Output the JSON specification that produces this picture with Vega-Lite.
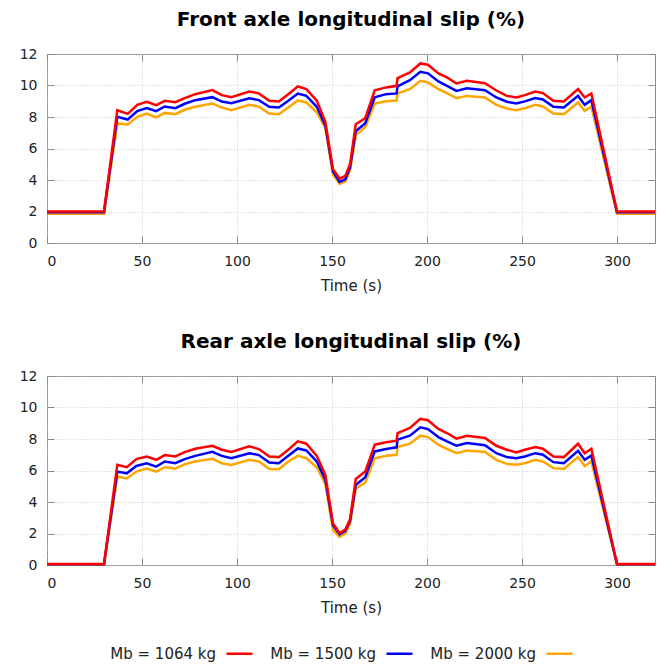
{
  "$schema": "https://vega.github.io/schema/vega-lite/v6.json",
  "padding": {"left": 18, "top": 9, "right": 5, "bottom": 5},
  "background": "white",
  "datasets": {
    "front": [
      {"t": 0, "m1064": 2.0, "m1500": 1.95, "m2000": 1.85},
      {"t": 30, "m1064": 2.0, "m1500": 1.95, "m2000": 1.85},
      {"t": 37, "m1064": 8.43, "m1500": 8.01, "m2000": 7.59},
      {"t": 42.5, "m1064": 8.2, "m1500": 7.84, "m2000": 7.52},
      {"t": 47.5, "m1064": 8.77, "m1500": 8.37, "m2000": 8.01},
      {"t": 52.5, "m1064": 8.96, "m1500": 8.56, "m2000": 8.22},
      {"t": 57.5, "m1064": 8.75, "m1500": 8.37, "m2000": 7.97},
      {"t": 62, "m1064": 9.03, "m1500": 8.67, "m2000": 8.26},
      {"t": 67.5, "m1064": 8.94, "m1500": 8.56, "m2000": 8.18},
      {"t": 72.5, "m1064": 9.2, "m1500": 8.84, "m2000": 8.46},
      {"t": 78, "m1064": 9.45, "m1500": 9.07, "m2000": 8.65},
      {"t": 87, "m1064": 9.71, "m1500": 9.26, "m2000": 8.86},
      {"t": 92, "m1064": 9.39, "m1500": 8.98, "m2000": 8.6},
      {"t": 97, "m1064": 9.26, "m1500": 8.88, "m2000": 8.43},
      {"t": 106.5, "m1064": 9.62, "m1500": 9.19, "m2000": 8.78},
      {"t": 111.5, "m1064": 9.5, "m1500": 9.07, "m2000": 8.66},
      {"t": 117, "m1064": 9.03, "m1500": 8.65, "m2000": 8.22},
      {"t": 122, "m1064": 8.98, "m1500": 8.6, "m2000": 8.17},
      {"t": 127, "m1064": 9.45, "m1500": 9.03, "m2000": 8.6},
      {"t": 132, "m1064": 9.94, "m1500": 9.49, "m2000": 9.05},
      {"t": 136.5, "m1064": 9.77, "m1500": 9.34, "m2000": 8.92},
      {"t": 142, "m1064": 9.03, "m1500": 8.65, "m2000": 8.3},
      {"t": 146.5, "m1064": 7.7, "m1500": 7.45, "m2000": 7.3},
      {"t": 150.5, "m1064": 4.68, "m1500": 4.55, "m2000": 4.35},
      {"t": 154, "m1064": 4.09, "m1500": 3.88, "m2000": 3.75},
      {"t": 157, "m1064": 4.26, "m1500": 4.05, "m2000": 3.9},
      {"t": 159.5, "m1064": 5.0, "m1500": 4.8, "m2000": 4.6},
      {"t": 162.5, "m1064": 7.54, "m1500": 7.1, "m2000": 6.85},
      {"t": 167.5, "m1064": 7.92, "m1500": 7.6, "m2000": 7.35},
      {"t": 172.5, "m1064": 9.7, "m1500": 9.25, "m2000": 8.85},
      {"t": 178.5, "m1064": 9.88, "m1500": 9.45, "m2000": 9.0},
      {"t": 184, "m1064": 9.98, "m1500": 9.5, "m2000": 9.05},
      {"t": 184.5, "m1064": 10.47, "m1500": 9.95, "m2000": 9.5},
      {"t": 191, "m1064": 10.83, "m1500": 10.34, "m2000": 9.77},
      {"t": 196.5, "m1064": 11.4, "m1500": 10.87, "m2000": 10.3},
      {"t": 200.5, "m1064": 11.32, "m1500": 10.77, "m2000": 10.19},
      {"t": 206, "m1064": 10.77, "m1500": 10.26, "m2000": 9.77},
      {"t": 210.5, "m1064": 10.51, "m1500": 9.98, "m2000": 9.52},
      {"t": 215.5, "m1064": 10.13, "m1500": 9.66, "m2000": 9.2},
      {"t": 221, "m1064": 10.3, "m1500": 9.83, "m2000": 9.34},
      {"t": 230.5, "m1064": 10.15, "m1500": 9.7, "m2000": 9.24},
      {"t": 236.5, "m1064": 9.68, "m1500": 9.24, "m2000": 8.77},
      {"t": 242, "m1064": 9.34, "m1500": 8.97, "m2000": 8.54},
      {"t": 247, "m1064": 9.24, "m1500": 8.86, "m2000": 8.43},
      {"t": 251.5, "m1064": 9.39, "m1500": 8.99, "m2000": 8.56},
      {"t": 257, "m1064": 9.62, "m1500": 9.2, "m2000": 8.77},
      {"t": 261, "m1064": 9.52, "m1500": 9.11, "m2000": 8.67},
      {"t": 266.5, "m1064": 9.03, "m1500": 8.65, "m2000": 8.22},
      {"t": 272, "m1064": 8.98, "m1500": 8.6, "m2000": 8.18},
      {"t": 279.5, "m1064": 9.77, "m1500": 9.34, "m2000": 8.92},
      {"t": 283, "m1064": 9.24, "m1500": 8.77, "m2000": 8.39},
      {"t": 286.5, "m1064": 9.5, "m1500": 9.07, "m2000": 8.65},
      {"t": 300, "m1064": 2.0, "m1500": 1.95, "m2000": 1.85},
      {"t": 320, "m1064": 2.0, "m1500": 1.95, "m2000": 1.85}
    ],
    "rear": [
      {"t": 0, "m1064": 0.07, "m1500": 0.05, "m2000": 0.03},
      {"t": 30, "m1064": 0.07, "m1500": 0.05, "m2000": 0.03},
      {"t": 37, "m1064": 6.36, "m1500": 5.93, "m2000": 5.62},
      {"t": 42, "m1064": 6.21, "m1500": 5.82, "m2000": 5.49},
      {"t": 47, "m1064": 6.72, "m1500": 6.29, "m2000": 5.93},
      {"t": 52.5, "m1064": 6.89, "m1500": 6.46, "m2000": 6.12},
      {"t": 57.5, "m1064": 6.68, "m1500": 6.25, "m2000": 5.93},
      {"t": 62, "m1064": 6.98, "m1500": 6.57, "m2000": 6.21},
      {"t": 67.5, "m1064": 6.89, "m1500": 6.46, "m2000": 6.12},
      {"t": 72.5, "m1064": 7.17, "m1500": 6.72, "m2000": 6.4},
      {"t": 78, "m1064": 7.38, "m1500": 6.93, "m2000": 6.57},
      {"t": 87, "m1064": 7.57, "m1500": 7.19, "m2000": 6.74},
      {"t": 92, "m1064": 7.32, "m1500": 6.93, "m2000": 6.46},
      {"t": 97, "m1064": 7.18, "m1500": 6.78, "m2000": 6.35},
      {"t": 106.5, "m1064": 7.53, "m1500": 7.1, "m2000": 6.68},
      {"t": 111.5, "m1064": 7.36, "m1500": 6.98, "m2000": 6.57},
      {"t": 117, "m1064": 6.89, "m1500": 6.51, "m2000": 6.1},
      {"t": 122, "m1064": 6.85, "m1500": 6.46, "m2000": 6.08},
      {"t": 127, "m1064": 7.32, "m1500": 6.93, "m2000": 6.57},
      {"t": 132, "m1064": 7.85, "m1500": 7.4, "m2000": 6.93},
      {"t": 136.5, "m1064": 7.7, "m1500": 7.27, "m2000": 6.78},
      {"t": 142, "m1064": 6.93, "m1500": 6.57, "m2000": 6.21},
      {"t": 146.5, "m1064": 5.72, "m1500": 5.4, "m2000": 5.15},
      {"t": 150.5, "m1064": 2.63, "m1500": 2.53, "m2000": 2.21},
      {"t": 154, "m1064": 2.03, "m1500": 1.95, "m2000": 1.78},
      {"t": 157, "m1064": 2.25, "m1500": 2.17, "m2000": 1.99},
      {"t": 159.5, "m1064": 2.9, "m1500": 2.8, "m2000": 2.6},
      {"t": 162.5, "m1064": 5.46, "m1500": 5.08, "m2000": 4.86},
      {"t": 167.5, "m1064": 5.93, "m1500": 5.57, "m2000": 5.23},
      {"t": 172.5, "m1064": 7.64, "m1500": 7.21, "m2000": 6.78},
      {"t": 178.5, "m1064": 7.79, "m1500": 7.36, "m2000": 6.93},
      {"t": 184, "m1064": 7.89, "m1500": 7.47, "m2000": 7.0},
      {"t": 184.5, "m1064": 8.38, "m1500": 7.96, "m2000": 7.49},
      {"t": 191, "m1064": 8.7, "m1500": 8.21, "m2000": 7.7},
      {"t": 196.5, "m1064": 9.28, "m1500": 8.74, "m2000": 8.21},
      {"t": 200.5, "m1064": 9.19, "m1500": 8.63, "m2000": 8.12},
      {"t": 206, "m1064": 8.64, "m1500": 8.12, "m2000": 7.64},
      {"t": 210.5, "m1064": 8.38, "m1500": 7.85, "m2000": 7.38},
      {"t": 215.5, "m1064": 8.02, "m1500": 7.57, "m2000": 7.1},
      {"t": 221, "m1064": 8.21, "m1500": 7.74, "m2000": 7.27},
      {"t": 230.5, "m1064": 8.06, "m1500": 7.61, "m2000": 7.17},
      {"t": 236.5, "m1064": 7.57, "m1500": 7.1, "m2000": 6.68},
      {"t": 242, "m1064": 7.32, "m1500": 6.85, "m2000": 6.42},
      {"t": 247, "m1064": 7.15, "m1500": 6.78, "m2000": 6.36},
      {"t": 251.5, "m1064": 7.32, "m1500": 6.89, "m2000": 6.46},
      {"t": 257, "m1064": 7.49, "m1500": 7.1, "m2000": 6.68},
      {"t": 261, "m1064": 7.38, "m1500": 7.0, "m2000": 6.57},
      {"t": 266.5, "m1064": 6.89, "m1500": 6.53, "m2000": 6.15},
      {"t": 272, "m1064": 6.85, "m1500": 6.46, "m2000": 6.1},
      {"t": 279.5, "m1064": 7.7, "m1500": 7.25, "m2000": 6.85},
      {"t": 283, "m1064": 7.1, "m1500": 6.68, "m2000": 6.29},
      {"t": 286.5, "m1064": 7.38, "m1500": 6.95, "m2000": 6.57},
      {"t": 300, "m1064": 0.07, "m1500": 0.05, "m2000": 0.03},
      {"t": 320, "m1064": 0.07, "m1500": 0.05, "m2000": 0.03}
    ]
  },
  "config": {
    "font": "DejaVu Sans",
    "view": {"stroke": "#8a8a8a", "strokeWidth": 1},
    "axis": {
      "domain": false,
      "grid": true,
      "gridDash": [1, 2],
      "gridColor": "#c8c8c8",
      "tickColor": "#8a8a8a",
      "tickSize": -7,
      "labelFont": "DejaVu Sans",
      "labelFontSize": 14,
      "labelColor": "#222222",
      "titleFont": "DejaVu Sans",
      "titleFontSize": 15,
      "titleFontWeight": "normal",
      "titleColor": "#222222"
    },
    "axisX": {"labelPadding": 18, "titlePadding": 10},
    "axisY": {"labelPadding": 17},
    "title": {"font": "DejaVu Sans", "fontSize": 20, "fontWeight": "bold", "color": "#000000", "anchor": "middle", "offset": 17},
    "legend": {
      "orient": "none",
      "legendX": 178,
      "legendY": 585,
      "direction": "horizontal",
      "title": null,
      "symbolType": "stroke",
      "symbolSize": 676,
      "symbolStrokeWidth": 2.5,
      "labelFont": "DejaVu Sans",
      "labelFontSize": 15,
      "labelColor": "#222222",
      "labelAlign": "right",
      "labelOffset": -38,
      "columnPadding": 12
    }
  },
  "resolve": {"scale": {"color": "shared"}, "legend": {"color": "shared"}},
  "spacing": 37,
  "vconcat": [
    {
      "title": "Front axle longitudinal slip (%)",
      "width": 608,
      "height": 189,
      "data": {"name": "front"},
      "transform": [{"fold": ["m1064", "m1500", "m2000"], "as": ["key", "v"]}],
      "layer": [
        {
          "transform": [{"filter": "datum.key == 'm2000'"}],
          "mark": {"type": "line", "strokeWidth": 2.5},
          "encoding": {
            "x": {"field": "t", "type": "quantitative", "scale": {"domain": [0, 320], "nice": false}, "axis": {"values": [0, 50, 100, 150, 200, 250, 300], "title": "Time (s)"}},
            "y": {"field": "v", "type": "quantitative", "scale": {"domain": [0, 12], "nice": false}, "axis": {"values": [0, 2, 4, 6, 8, 10, 12], "title": null}},
            "color": {"field": "key", "type": "nominal", "scale": {"domain": ["m1064", "m1500", "m2000"], "range": ["#ff0000", "#0000ff", "#ffa500"]}, "legend": {"labelExpr": "'Mb = ' + slice(datum.label, 1) + ' kg'"}}
          }
        },
        {
          "transform": [{"filter": "datum.key == 'm1500'"}],
          "mark": {"type": "line", "strokeWidth": 2.5},
          "encoding": {
            "x": {"field": "t", "type": "quantitative", "axis": null},
            "y": {"field": "v", "type": "quantitative", "axis": null},
            "color": {"field": "key", "type": "nominal"}
          }
        },
        {
          "transform": [{"filter": "datum.key == 'm1064'"}],
          "mark": {"type": "line", "strokeWidth": 2.5},
          "encoding": {
            "x": {"field": "t", "type": "quantitative", "axis": null},
            "y": {"field": "v", "type": "quantitative", "axis": null},
            "color": {"field": "key", "type": "nominal"}
          }
        },
        {
          "mark": {"type": "point", "opacity": 0},
          "encoding": {
            "x": {"field": "t", "type": "quantitative", "axis": {"orient": "top", "values": [0, 50, 100, 150, 200, 250, 300], "labels": false, "grid": false, "title": null}},
            "y": {"field": "v", "type": "quantitative", "axis": {"orient": "right", "values": [0, 2, 4, 6, 8, 10, 12], "labels": false, "grid": false, "title": null}}
          }
        }
      ],
      "resolve": {"axis": {"x": "independent", "y": "independent"}}
    },
    {
      "title": "Rear axle longitudinal slip (%)",
      "width": 608,
      "height": 189,
      "data": {"name": "rear"},
      "transform": [{"fold": ["m1064", "m1500", "m2000"], "as": ["key", "v"]}],
      "layer": [
        {
          "transform": [{"filter": "datum.key == 'm2000'"}],
          "mark": {"type": "line", "strokeWidth": 2.5},
          "encoding": {
            "x": {"field": "t", "type": "quantitative", "scale": {"domain": [0, 320], "nice": false}, "axis": {"values": [0, 50, 100, 150, 200, 250, 300], "title": "Time (s)"}},
            "y": {"field": "v", "type": "quantitative", "scale": {"domain": [0, 12], "nice": false}, "axis": {"values": [0, 2, 4, 6, 8, 10, 12], "title": null}},
            "color": {"field": "key", "type": "nominal", "scale": {"domain": ["m1064", "m1500", "m2000"], "range": ["#ff0000", "#0000ff", "#ffa500"]}, "legend": {"labelExpr": "'Mb = ' + slice(datum.label, 1) + ' kg'"}}
          }
        },
        {
          "transform": [{"filter": "datum.key == 'm1500'"}],
          "mark": {"type": "line", "strokeWidth": 2.5},
          "encoding": {
            "x": {"field": "t", "type": "quantitative", "axis": null},
            "y": {"field": "v", "type": "quantitative", "axis": null},
            "color": {"field": "key", "type": "nominal"}
          }
        },
        {
          "transform": [{"filter": "datum.key == 'm1064'"}],
          "mark": {"type": "line", "strokeWidth": 2.5},
          "encoding": {
            "x": {"field": "t", "type": "quantitative", "axis": null},
            "y": {"field": "v", "type": "quantitative", "axis": null},
            "color": {"field": "key", "type": "nominal"}
          }
        },
        {
          "mark": {"type": "point", "opacity": 0},
          "encoding": {
            "x": {"field": "t", "type": "quantitative", "axis": {"orient": "top", "values": [0, 50, 100, 150, 200, 250, 300], "labels": false, "grid": false, "title": null}},
            "y": {"field": "v", "type": "quantitative", "axis": {"orient": "right", "values": [0, 2, 4, 6, 8, 10, 12], "labels": false, "grid": false, "title": null}}
          }
        }
      ],
      "resolve": {"axis": {"x": "independent", "y": "independent"}}
    }
  ]
}
